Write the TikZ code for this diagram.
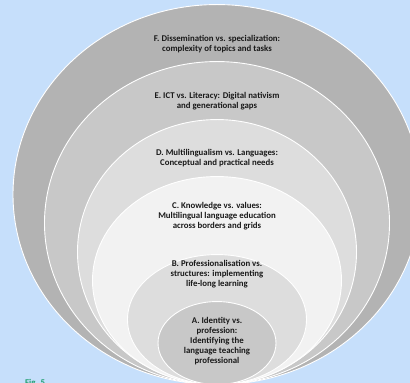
\documentclass[tikz,border=0pt]{standalone}
\usepackage{fontspec}
\setmainfont{Carlito}
\usetikzlibrary{shapes.geometric,positioning}
\definecolor{bgblue}{RGB}{198,223,251}
\definecolor{ringF}{RGB}{179,179,179}
\definecolor{ringE}{RGB}{200,200,200}
\definecolor{ringD}{RGB}{221,221,221}
\definecolor{ringC}{RGB}{242,242,242}
\definecolor{figgreen}{RGB}{30,158,110}
\tikzset{
    ring/.style={shape=ellipse,draw=white,line width=0.9pt,inner sep=0pt,anchor=south},
    lbl/.style={inner sep=0pt,align=center,font=\bfseries\fontsize{8.8}{10}\selectfont,text=black!90}
}
\begin{document}
\begin{tikzpicture}[x=1pt,y=1pt]
    \fill[bgblue] (0,0) rectangle (410,383);
    \useasboundingbox (0,0) rectangle (410,383);
    \coordinate (base) at (217,-2);

    \node[ring,fill=ringF,minimum width=408pt,minimum height=380pt] (F) at (base) {};
    \node[ring,fill=ringE,minimum width=345pt,minimum height=323pt] (E) at (base) {};
    \node[ring,fill=ringD,minimum width=279pt,minimum height=265pt] (D) at (base) {};
    \node[ring,fill=ringC,minimum width=249pt,minimum height=208pt] (C) at (base) {};
    \node[ring,fill=ringD,minimum width=179pt,minimum height=130pt] (B) at (base) {};
    \node[ring,fill=ringE,minimum width=118pt,minimum height=83pt] (A) at (base) {};

    \node[lbl,below=31pt of F.north] (Ftext) {F. Dissemination vs. specialization:\\complexity of topics and tasks};
    \node[lbl,below=31pt of E.north] (Etext) {E. ICT vs. Literacy: Digital nativism\\and generational gaps};
    \node[lbl,below=30pt of D.north] (Dtext) {D. Multilingualism vs. Languages:\\Conceptual and practical needs};
    \node[lbl,below=26pt of C.north] (Ctext) {C. Knowledge vs. values:\\Multilingual language education\\across borders and grids};
    \node[lbl,below=6pt of B.north] (Btext) {B. Professionalisation vs.\\structures: implementing\\life-long learning};
    \node[lbl,below=16pt of A.north] (Atext) {A. Identity vs.\\profession:\\Identifying the\\language teaching\\professional};

    \node[lbl,text=figgreen,anchor=north west] (fig) at (25,4) {Fig. 5};
\end{tikzpicture}
\end{document}
